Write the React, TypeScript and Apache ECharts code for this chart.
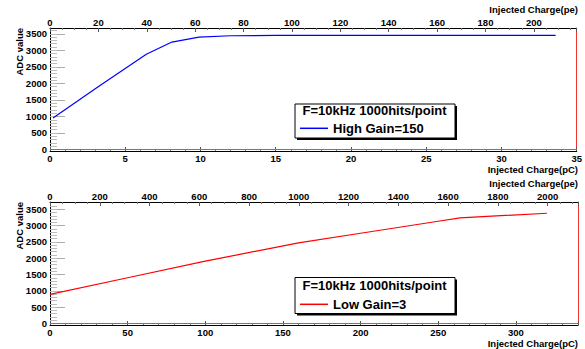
import React, { useEffect, useRef } from "react";
import * as echarts from "echarts";

// ---- data ----
const pcHigh = [0.2, 3.2, 6.4, 8.1, 9.9, 12, 15, 20, 25, 30, 33.6];
const adcHigh = [955, 1895, 2880, 3250, 3400, 3440, 3450, 3450, 3452, 3452, 3450];

const pcLow = [0, 50, 100, 160, 200, 250, 264, 320];
const adcLow = [890, 1400, 1910, 2470, 2765, 3135, 3240, 3380];

const adcTicks = [0, 500, 1000, 1500, 2000, 2500, 3000, 3500];
const adcMinorTicks = [
  0, 100, 200, 300, 400, 500, 600, 700, 800, 900, 1000, 1100, 1200, 1300, 1400,
  1500, 1600, 1700, 1800, 1900, 2000, 2100, 2200, 2300, 2400, 2500, 2600, 2700,
  2800, 2900, 3000, 3100, 3200, 3300, 3400, 3500, 3600,
];

const headerText = "F=10kHz 1000hits/point";
const highName = "High Gain=150";
const lowName = "Low Gain=3";
const xTitlePC = "Injected Charge(pC)";
const xTitlePE = "Injected Charge(pe)";
const yTitle = "ADC value";

const FONT = "'Liberation Sans', Arial, Helvetica, sans-serif";

function xAxisCfg(
  grid: number,
  position: "top" | "bottom",
  max: number,
  interval: number,
  minorSplit: number,
  margin: number
) {
  return {
    type: "value",
    gridIndex: grid,
    position,
    min: 0,
    max,
    interval,
    axisLine: { show: true, onZero: false, lineStyle: { color: "#000", width: 1 } },
    axisTick: { show: true, inside: true, length: 4, lineStyle: { color: "#555" } },
    minorTick: { show: true, splitNumber: minorSplit, length: 2, lineStyle: { color: "#777" } },
    splitLine: { show: false },
    minorSplitLine: { show: false },
    axisLabel: {
      show: true,
      margin,
      color: "#000",
      fontSize: 9.5,
      fontWeight: "bold",
      fontFamily: FONT,
      formatter: (v: number) => (Math.abs(v / interval - Math.round(v / interval)) < 1e-6 ? String(v) : ""),
    },
  };
}

function yAxesCfg(grid: number, min: number, max: number) {
  return [
    {
      type: "value",
      gridIndex: grid,
      position: "left",
      min,
      max,
      axisLine: { show: true, onZero: false, lineStyle: { color: "#000", width: 1 } },
      axisTick: {
        show: true,
        inside: true,
        length: 15,
        customValues: adcTicks,
        lineStyle: { color: "#aaa" },
      },
      axisLabel: {
        show: true,
        customValues: adcTicks,
        margin: 3,
        color: "#000",
        fontSize: 9.5,
        fontWeight: "bold",
        fontFamily: FONT,
        formatter: (v: number) => String(v),
      },
      splitLine: { show: false },
    },
    {
      type: "value",
      gridIndex: grid,
      position: "left",
      min,
      max,
      axisLine: { show: false, onZero: false },
      axisTick: {
        show: true,
        inside: true,
        length: 7,
        customValues: adcMinorTicks,
        lineStyle: { color: "#bbb" },
      },
      axisLabel: { show: false },
      splitLine: { show: false },
    },
    {
      type: "value",
      gridIndex: grid,
      position: "right",
      min,
      max,
      axisLine: { show: true, onZero: false, lineStyle: { color: "#ee3333", width: 1 } },
      axisTick: { show: false },
      axisLabel: { show: false },
      splitLine: { show: false },
    },
  ];
}

function legendCfg(name: string, top: number) {
  return {
    data: [name],
    left: 300,
    top,
    padding: 0,
    icon: "rect",
    itemWidth: 28,
    itemHeight: 1.5,
    selectedMode: false,
    z: 10,
    textStyle: {
      color: "#000",
      fontSize: 13,
      fontWeight: "bold",
      fontFamily: FONT,
      lineHeight: 14,
    },
  };
}

function legendBox(x: number, y: number, w: number, h: number, textY: number) {
  return [
    { type: "rect", z: 5, shape: { x: x + 2, y: y + 2, width: w, height: h }, style: { fill: "#000" } },
    {
      type: "rect",
      z: 6,
      shape: { x, y, width: w, height: h },
      style: { fill: "#fff", stroke: "#000", lineWidth: 1 },
    },
    {
      type: "text",
      z: 7,
      x: x + 7.5,
      y: textY,
      style: {
        text: headerText,
        fill: "#000",
        fontSize: 13,
        fontWeight: "bold",
        fontFamily: FONT,
        align: "left",
        verticalAlign: "middle",
      },
    },
  ];
}

function titleText(text: string, x: number, y: number, rotate = false) {
  return {
    type: "text",
    z: 7,
    x,
    y,
    rotation: rotate ? Math.PI / 2 : 0,
    style: {
      text,
      fill: "#000",
      fontSize: 9.5,
      fontWeight: "bold",
      fontFamily: FONT,
      align: "right",
      verticalAlign: "middle",
    },
  };
}

export default function App() {
  const ref = useRef<HTMLDivElement>(null);

  useEffect(() => {
    if (!ref.current) return;
    const chart = echarts.init(ref.current, null, { renderer: "svg" });

    const option = {
      animation: false,
      backgroundColor: "#fff",
      grid: [
        { left: 50, top: 28, width: 528, height: 123 },
        { left: 50, top: 202, width: 528, height: 123 },
      ],
      xAxis: [
        xAxisCfg(0, "bottom", 35, 5, 5, 2),
        xAxisCfg(0, "top", 217.7, 20, 4, 1),
        xAxisCfg(1, "bottom", 340, 50, 5, 2),
        xAxisCfg(1, "top", 2122, 200, 4, 1),
      ],
      yAxis: [...yAxesCfg(0, -45, 3675), ...yAxesCfg(1, -50, 3725)],
      legend: [legendCfg(highName, 121.3), legendCfg(lowName, 297.3)],
      series: [
        {
          name: highName,
          type: "line",
          xAxisIndex: 0,
          yAxisIndex: 0,
          showSymbol: false,
          symbol: "none",
          color: "#0000ff",
          lineStyle: { color: "#0000ff", width: 1.2 },
          data: pcHigh.map((x, i) => [x, adcHigh[i]]),
          markLine: {
            silent: true,
            symbol: "none",
            label: { show: false },
            lineStyle: { color: "#ee4444", width: 1, type: "solid" },
            data: [{ yAxis: 0 }],
          },
        },
        {
          name: lowName,
          type: "line",
          xAxisIndex: 2,
          yAxisIndex: 3,
          showSymbol: false,
          symbol: "none",
          color: "#ff0000",
          lineStyle: { color: "#ff0000", width: 1.2 },
          data: pcLow.map((x, i) => [x, adcLow[i]]),
          markLine: {
            silent: true,
            symbol: "none",
            label: { show: false },
            lineStyle: { color: "#ee4444", width: 1, type: "solid" },
            data: [{ yAxis: 0 }],
          },
        },
      ],
      graphic: [
        ...legendBox(295, 104, 160, 34, 110.7),
        ...legendBox(295, 277.5, 160, 36, 285),
        titleText(xTitlePE, 578, 9.5),
        titleText(xTitlePC, 578, 169.5),
        titleText(xTitlePE, 578, 183.5),
        titleText(xTitlePC, 578, 343.5),
        titleText(yTitle, 19, 28, true),
        titleText(yTitle, 19, 202, true),
      ],
    };

    chart.setOption(option as any);
    return () => chart.dispose();
  }, []);

  return (
    <div
      ref={ref}
      style={{ position: "absolute", left: 0, top: 0, width: 585, height: 349, background: "#fff" }}
    />
  );
}
